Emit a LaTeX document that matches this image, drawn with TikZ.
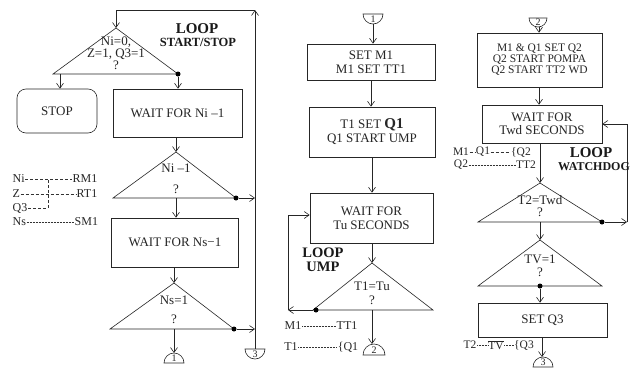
\documentclass[tikz,border=0pt]{standalone}
\usepackage{fontspec}
\setmainfont{Liberation Serif}
\usetikzlibrary{arrows.meta}
\begin{document}
\begin{tikzpicture}[x=1pt,y=-1pt,
  ln/.style={line width=0.6pt, draw=black!85},
  arr/.style={ln, -{Straight Barb[length=5pt,width=7pt]}},
  proc/.style={ln, rectangle, inner sep=0pt, align=center, text=black!85, font=\fontsize{13}{14}\selectfont},
  txt/.style={inner sep=0pt, text=black!85, font=\fontsize{13}{14}\selectfont},
  lg/.style={inner sep=0.5pt, text=black!85, font=\fontsize{12}{13}\selectfont},
  lgs/.style={inner sep=0.5pt, text=black!85, font=\fontsize{11.5}{13}\selectfont},
  bigb/.style={inner sep=0pt, text=black!90, font=\bfseries\fontsize{15}{16}\selectfont},
  smb/.style={inner sep=0pt, text=black!90, font=\bfseries\fontsize{12.5}{14}\selectfont},
  dsh/.style={line width=0.5pt, draw=black!80, densely dashed},
  dtl/.style={line width=0.5pt, draw=black!80, densely dotted},
  blob/.style={circle, fill=black, inner sep=0pt, minimum size=5pt},
  digit/.style={inner sep=0pt, text=black!85, font=\fontsize{10}{10}\selectfont}
]
\fill[white] (0,0) rectangle (631,367);
\useasboundingbox (0,0) rectangle (631,367);

% ================= column 1 =================
\coordinate (t1a) at (116,28);
\coordinate (t1l) at (53,74);
\coordinate (t1r) at (178,74);
\draw[ln] (t1a) -- (t1r) -- (t1l) -- cycle;
\node[txt] (t1x1) at (116,42) {Ni=0,};
\node[txt] (t1x2) at (116,54) {Z=1, Q3=1};
\node[txt] (t1x3) at (116,65) {?};
\node[blob] (t1d) at (t1r) {};
\coordinate (t1lo) at (60,74);

\node[proc, rounded corners=9pt, minimum width=80pt, minimum height=44pt] (stop) at (57,111) {STOP};
\node[proc, minimum width=129pt, minimum height=48pt] (w1) at (177.5,113) {WAIT FOR Ni –1};
\draw[arr] (t1lo) -- (t1lo |- stop.north);
\draw[arr] (t1d) -- (t1d |- w1.north);

\coordinate (t2a) at (176,152);
\coordinate (t2l) at (113,198);
\coordinate (t2r) at (236,198);
\coordinate (t2b) at (176,198);
\draw[ln] (t2a) -- (t2r) -- (t2l) -- cycle;
\node[txt] (t2x1) at (176,168) {Ni –1};
\node[txt] (t2x2) at (176,189) {?};
\node[blob] (t2d) at (t2r) {};
\draw[arr] (t2a |- w1.south) -- (t2a);

\node[proc, minimum width=127pt, minimum height=49pt] (w2) at (175,242.5) {WAIT FOR Ns−1};
\draw[arr] (t2b) -- (t2b |- w2.north);

\coordinate (t3a) at (174,283);
\coordinate (t3l) at (110,329);
\coordinate (t3r) at (234,329);
\coordinate (t3b) at (174,329);
\draw[ln] (t3a) -- (t3r) -- (t3l) -- cycle;
\node[txt] (t3x1) at (174,300) {Ns=1};
\node[txt] (t3x2) at (174,319) {?};
\node[blob] (t3d) at (t3r) {};
\draw[arr] (t3a |- w2.south) -- (t3a);

% exit connector 1
\draw[ln] (164,363) arc[start angle=180, end angle=0, radius=10pt] -- cycle;
\node[digit] (k1n) at (174,358) {1};
\coordinate (k1t) at (174,353);
\draw[arr] (t3b) -- (k1t);

% entry connector 3 and loop line
\draw[ln] (245,349) arc[start angle=180, end angle=360, radius=10pt] -- cycle;
\node[digit] (k3n) at (255,354) {3};
\coordinate (k3t) at (255,349);
\coordinate (tr) at (255,10);
\coordinate (tl) at (116,10);
\draw[arr] (k3t) -- (tr);
\draw[arr] (tr) -- (tl) -- (t1a);
\draw[arr] (t2d) -- (t2d -| tr);
\draw[arr] (t3d) -- (t3d -| tr);

\node[bigb] (lp1) at (197,29) {LOOP};
\node[smb] (ss1) at (198,42) {START/STOP};

% legend column 1
\node[lg, anchor=west] (lNi) at (12,179) {Ni};
\node[lg, anchor=west] (lRM) at (72,179) {RM1};
\draw[dsh] (lNi.east) -- (lRM.west);
\node[lg, anchor=west] (lZ) at (12,194) {Z};
\node[lg, anchor=west] (lRT) at (76,194) {RT1};
\draw[dsh] (lZ.east) -- (lRT.west);
\node[lg, anchor=west] (lQ3) at (12,208) {Q3};
\coordinate (lq3e) at (48,208);
\coordinate (lv) at (48,179);
\draw[dsh] (lQ3.east) -- (lq3e) -- (lv);
\node[lg, anchor=west] (lNs) at (12,222) {Ns};
\node[lg, anchor=west] (lSM) at (74,222) {SM1};
\draw[dtl] (lNs.east) -- (lSM.west);

% ================= column 2 =================
\draw[ln] (363,14) arc[start angle=180, end angle=360, radius=10pt] -- cycle;
\node[digit] (k2in) at (373,19) {1};
\coordinate (k2it) at (373,24);

\node[proc, minimum width=128pt, minimum height=36pt] (b1) at (371,62) {SET M1\\M1 SET TT1};
\draw[arr] (k2it) -- (k2it |- b1.north);
\node[proc, minimum width=126pt, minimum height=50pt] (b2) at (372,132)
  {T1 SET {\bfseries\fontsize{15}{15}\selectfont Q1}\\Q1 START UMP};
\draw[arr] (b1.south) -- (b1.south |- b2.north);
\node[proc, minimum width=123pt, minimum height=50pt] (b3) at (371.5,218) {WAIT FOR\\Tu SECONDS};
\draw[arr] (b2.south) -- (b2.south |- b3.north);

\coordinate (t4a) at (372,263);
\coordinate (t4l) at (313,310);
\coordinate (t4r) at (433,310);
\coordinate (t4b) at (372,310);
\draw[ln] (t4a) -- (t4r) -- (t4l) -- cycle;
\node[txt] (t4x1) at (372,286) {T1=Tu};
\node[txt] (t4x2) at (372,300) {?};
\node[blob] (t4d) at (316,310) {};
\draw[arr] (t4a |- b3.south) -- (t4a);
\coordinate (t4c) at (288,310);
\draw[arr] (t4d) -- (t4c);
\draw[arr] (t4c) |- ([yshift=3pt]b3.west);

\node[bigb, font=\bfseries\fontsize{14.5}{15}\selectfont] (lp2) at (323,253) {LOOP};
\node[bigb, font=\bfseries\fontsize{14.5}{15}\selectfont] (ump) at (323,267) {UMP};

\draw[ln] (363,355) arc[start angle=180, end angle=0, radius=11pt] -- cycle;
\node[digit] (k2n) at (374,350) {2};
\coordinate (k2t) at (374,344);
\draw[arr] (t4b) -- (t4b |- k2t);

\node[lg] (m1a) at (293,326) {M1};
\node[lg] (tt1) at (347,326) {TT1};
\draw[dtl] (m1a.east) -- (tt1.west);
\node[lg] (t1b) at (291,347) {T1};
\node[lg] (q1b) at (348,347) {\{Q1};
\draw[dtl] (t1b.east) -- (q1b.west);

% ================= column 3 =================
\draw[ln] (529,18) arc[start angle=180, end angle=360, radius=9pt] -- cycle;
\node[digit] (k3in) at (538,22) {2};
\coordinate (k3it) at (539,27);

\node[proc, minimum width=125pt, minimum height=54pt, font=\fontsize{11.5}{11}\selectfont] (c1) at (539.5,60)
  {M1 \& Q1 SET Q2\\Q2 START POMPA\\Q2 START TT2 WD};
\draw[arr] (k3it) -- (k3it |- c1.north);
\node[proc, minimum width=120pt, minimum height=38pt, font=\fontsize{13}{12.5}\selectfont] (c2) at (542,124)
  {WAIT FOR\\Twd SECONDS};
\draw[arr] (c1.south -| k3it) -- (k3it |- c2.north);

\coordinate (t5a) at (540,183);
\coordinate (t5l) at (478,222);
\coordinate (t5r) at (602,222);
\coordinate (t5b) at (540,222);
\draw[ln] (t5a) -- (t5r) -- (t5l) -- cycle;
\node[txt] (t5x1) at (540,200) {T2=Twd};
\node[txt] (t5x2) at (540,212) {?};
\node[blob] (t5d) at (t5r) {};
\draw[arr] (t5a |- c2.south) -- (t5a);
\coordinate (t5c) at (627,222);
\draw[arr] (t5d) -- (t5c);
\draw[arr] (t5c) |- (c2.east);

\coordinate (t6a) at (540,240);
\coordinate (t6l) at (478,286);
\coordinate (t6r) at (602,286);
\draw[ln] (t6a) -- (t6r) -- (t6l) -- cycle;
\node[txt] (t6x1) at (540,259) {TV=1};
\node[txt] (t6x2) at (540,272) {?};
\node[blob] (t6d) at (540,286) {};
\draw[arr] (t5b) -- (t6a);

\node[proc, minimum width=129pt, minimum height=34pt] (c3) at (542.5,320) {SET Q3};
\draw[arr] (t6d) -- (t6d |- c3.north);

\draw[ln] (533,367) arc[start angle=180, end angle=0, radius=10pt] -- cycle;
\node[digit] (k4n) at (543,362) {3};
\coordinate (k4t) at (542,357);
\draw[arr] (k4t |- c3.south) -- (k4t);

\node[lgs] (m1c) at (461,152) {M1};
\node[lgs] (q1c) at (483,152) {Q1};
\node[lgs] (q2c) at (521,152) {\{Q2};
\draw[dsh] (m1c.east) -- (q1c.west);
\draw[dsh] (q1c.east) -- (q2c.west);
\node[lgs] (q2d) at (461,165) {Q2};
\node[lgs] (tt2) at (526,165) {TT2};
\draw[dtl] (q2d.east) -- (tt2.west);
\node[lgs] (t2c) at (470,345) {T2};
\node[lgs] (tvc) at (496,345) {$\overline{\mbox{TV}}$};
\node[lgs] (q3c) at (524,345) {\{Q3};
\draw[dtl] (t2c.east) -- (tvc.west);
\draw[dtl] (tvc.east) -- (q3c.west);

\node[bigb] (lp3) at (591,153) {LOOP};
\node[smb, font=\bfseries\fontsize{12}{13}\selectfont] (wd) at (594,167) {WATCHDOG};
\end{tikzpicture}
\end{document}
